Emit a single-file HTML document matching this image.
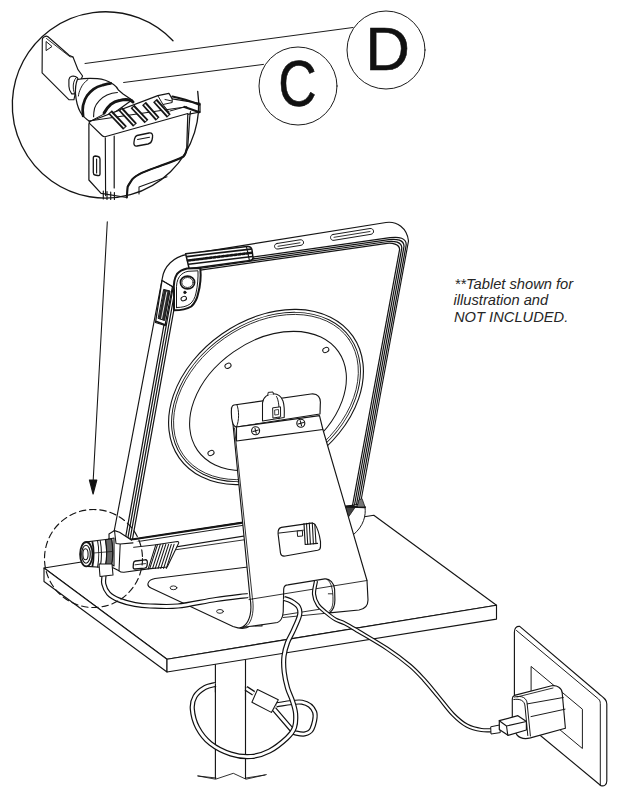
<!DOCTYPE html>
<html><head><meta charset="utf-8">
<style>
html,body{margin:0;padding:0;background:#fff;width:630px;height:800px;overflow:hidden}
svg{display:block}
.t{font-family:"Liberation Sans",sans-serif}
</style></head><body>
<svg width="630" height="800" viewBox="0 0 630 800">
<g fill="none" stroke="#151515" stroke-width="1.14" stroke-linejoin="round" stroke-linecap="round">

<!-- POLE -->
<g id="pole" fill="#fff">
<path d="M215.4 662 L215.4 778.5 M245.5 659.5 L245.5 778.5"/>
<path d="M198 776 L216 778 M246 778 L265 775" stroke-width="0.88"/>
</g>

<!-- TABLE -->
<g id="table" fill="#fff">
<path d="M44 568 L373.8 515.2 L496.5 605.2 L167 659.2 Z"/>
<path d="M44 568 L167 659.2 L167 672 L44 581.5 Z"/>
<path d="M167 659.2 L496.5 605.2 L496.5 619.1 L167 672 Z"/>
</g>

<!-- TABLET -->
<g id="tablet">
<path fill="#fff" d="M186 254.6 L386 222.5 C397 221 407 228 408.5 241 L360.4 504 L132 539.5 L114 532 L162.3 278.3 C164 266 174 257 186 254.6 Z"/>
<!-- top band -->
<path d="M190 266 L390 237.7 C399 236.4 406.6 238 406.2 245 L358.3 505" stroke-width="1.25"/>
<path d="M190.5 267.8 L389 239.6 C396.5 238.5 404.2 240 404 246.5 L356.4 505" stroke-width="1.25"/>
<path d="M191 269.6 L388 241.5 C394 240.7 401.8 242 401.8 248 L354.5 505" stroke-width="1.25"/>
<path d="M191.5 271.4 L387 243.4 C391.5 242.8 399.6 244 399.6 249.5 L352.6 505" stroke-width="1.25"/>
<!-- left band -->
<path d="M170.8 287 L125.2 539.5" stroke-width="1.25"/>
<path d="M173.2 287 L127.6 539.5" stroke-width="1.25"/>
<path d="M175.6 287 L130 539.5" stroke-width="1.25"/>
<path d="M178 287 L132.4 539.5" stroke-width="1.25"/>
<path d="M162 280.5 L172.5 286.5 L165 325.5 L155.5 322.5 Z" fill="#fff" stroke-width="1.3"/>
<path d="M164 289.5 L170 291 L164.5 320.5 L158.5 318.5 Z" fill="#2a2a2a" stroke-width="1"/>
<path d="M166.8 292 L161.6 318.5" stroke="#fff" stroke-width="0.9"/>
<path d="M156.5 321.5 L165.5 325" stroke-width="1.6"/>
<!-- corner cap -->
<path d="M163 281 L173.5 287.5" fill="none" stroke-width="0.97"/>
<!-- top rail grille -->
<path d="M185.6 253.7 L247 246.5 C250 246.2 251.5 247.5 252 250 L253 257.5 C253.2 259.5 252 260.3 250 260.6 L189.2 268.8 Z" fill="#fff" stroke-width="1.5"/>
<path d="M186.8 256.6 L250.8 249.1" fill="none" stroke-width="1.6"/>
<path d="M188 260.5 L251.5 252.8" fill="none" stroke-width="2.6" stroke-dasharray="2.6 1.6"/>
<path d="M188.6 264.3 L252.3 256.5" fill="none" stroke-width="1.5"/>
<path d="M246.5 246.8 L249.5 260.8" fill="none" stroke-width="1.1"/>
<!-- camera region -->
<path d="M174 310.25 L174 290 C173.5 285 174 279 177 274 C179.5 271 183 269.5 187 268.5 L200.3 268 C201 275 200 287 198 294 C197 299 195 303 191.25 306.5 C187 309 181 310.25 174 310.25 Z" fill="#fff" stroke-width="2"/>
<path d="M176.5 307.5 L176.5 290 C176.2 285 177 280 179.5 276.5 C181.5 273.8 184.5 272 188 271.3 L198 270.8 C198.3 277 197.5 287 196 293 C195 298 193 301.5 190 304 C186.5 306.5 182 307.5 176.5 307.5 Z" fill="none" stroke-width="0.97"/>
<ellipse cx="187.5" cy="282.5" rx="7.1" ry="6.4" fill="#fff" stroke-width="1.7"/>
<ellipse cx="187.5" cy="282.5" rx="5.6" ry="5" fill="none" stroke-width="0.79"/>
<circle cx="184.9" cy="292.4" r="1.3" fill="#111" stroke-width="0.6"/>
<ellipse cx="183.75" cy="298.6" rx="2.8" ry="2.1" transform="rotate(-20 183.75 298.6)" fill="#fff" stroke-width="1.06"/>
<!-- buttons -->
<path d="M277 243.5 L300 239.8 C304 239.2 305 244.5 301 245.3 L278 249 C274 249.5 273 244 277 243.5 Z" stroke-width="0.97"/>
<path d="M278 246.3 L300 242.8" stroke-width="0.88"/>
<path d="M333 234.5 L370 228.5 C374 228 375 233.5 371 234.3 L334 240.3 C330 241 329 235 333 234.5 Z" stroke-width="0.97"/>
<path d="M334 237.3 L370 231.5" stroke-width="0.88"/>
<!-- bottom rail -->
<path d="M131.7 539.5 L353 506" stroke-width="2.2"/>
<path d="M133 542.3 L353 508.4" stroke-width="0.97"/>
<path d="M176 549.7 L353 524" stroke-width="0.88"/>
<!-- bottom-right bumper -->
<path d="M344.4 506.5 L365 507.3 C366 515 364 526 353 535 L344.4 506.5" fill="#fff" stroke-width="0.97"/>
<path d="M345 507 L355 507.5 L348.5 517 Z" fill="#444" stroke-width="0.8"/>
<path d="M344.4 506.5 L365 507.3" stroke-width="2"/>
<path d="M359 500 L362 498.5 L365 507 L357.5 507 Z" fill="#777" stroke-width="0.8"/>
</g>


<!-- DISC -->
<g id="disc">
<ellipse cx="266" cy="397" rx="106" ry="77" transform="rotate(-35 266 397)" stroke-width="1.14"/>
<ellipse cx="266" cy="397" rx="103" ry="74" transform="rotate(-35 266 397)" stroke-width="0.97"/>
<ellipse cx="266" cy="397" rx="101" ry="72" transform="rotate(-35 266 397)" stroke-width="0.79"/>
<ellipse cx="268" cy="401" rx="86" ry="60" transform="rotate(-35 268 401)" stroke-width="1.06"/>
<ellipse cx="228" cy="365.8" rx="3.2" ry="2.4" transform="rotate(-25 228 365.8)" stroke-width="0.97"/>
<ellipse cx="325.8" cy="350" rx="3.2" ry="2.4" transform="rotate(-25 325.8 350)" stroke-width="0.97"/>
<ellipse cx="211" cy="453" rx="3.2" ry="2.4" transform="rotate(-25 211 453)" stroke-width="0.97"/>
</g>

<!-- STAND -->
<g id="stand" fill="#fff">
<!-- foot plate -->
<path d="M262 565.3 L155 578.5 C147 580 146 586 151 588 L233 626.5 C240 629 246 629 250 626 L262 626 Z" stroke-width="1.06"/>
<ellipse cx="173.5" cy="587.8" rx="3.4" ry="1.9" stroke-width="0.88"/>
<ellipse cx="220" cy="611.4" rx="3.4" ry="1.9" stroke-width="0.88"/>
<!-- column -->
<path d="M231.4 408 L250 597.5 C251.5 606 251 615 248 621 C246 625 243.5 627 240 627.8 L277.5 622.5 C281 621 282.8 617 283.2 612 L283.7 589 C283.9 586.5 285.5 585 287.9 584.9 L324.8 578.9 C330 578.5 334 583 334.6 589 L334.9 600 C334.9 606 333.5 610 329.5 612.9 L359 610 C365 609 368 605 368 600 L367 580.5 L322.9 429.5 Z" stroke-width="1.14"/>
<path d="M234.5 428 L252.3 597.3 C253.8 606 253.3 615 250.3 621.3 C248.5 625 246 626.8 243 627.4" fill="none" stroke-width="0.88"/>
<path d="M249 599.5 L367 580.5" fill="none" stroke-width="0.88"/>
<!-- hinge cylinder -->
<path d="M234 405 L311 394 C318 393 321 398 320.3 404 L320 414 L236.5 427 C233 427 231 420 231.4 410 C231.5 407 232 405.5 234 405 Z" stroke-width="1.14"/>
<path d="M237 405 C239 410 239.5 420 236.5 427" fill="none" stroke-width="0.97"/>
<!-- clamp -->
<path d="M262.5 416 L262.5 403 C263 397 268 393.8 273.5 393.8 C278 393.8 281.5 397 283 401 C284.3 405 284.5 411 284.2 417.5 L262.5 421 Z" stroke-width="1.06"/>
<path d="M276.5 396.5 C278.8 400 279.5 408 279 419" fill="none" stroke-width="0.97"/>
<path d="M273 407.8 L280.5 406.8 L280.6 416.8 L273.3 418 Z" stroke-width="0.97"/>
<path d="M275 410 L278.5 409.5 L278.6 414.5 L275.2 415 Z" fill="none" stroke-width="0.79"/>
<path d="M267.8 395 L268.2 392.4 L273 392 L273.4 394.2" stroke-width="0.97"/>
<!-- plate -->
<path d="M236.5 427 L319.5 415.6 L322.9 429.5 L236.5 441 Z" stroke-width="1.14"/>
<circle cx="255.6" cy="430.8" r="4" stroke-width="1.14"/>
<path d="M253 431.5 L258.3 430 M255 428.3 L256.3 433.3" stroke-width="1.06"/>
<circle cx="300.8" cy="423.2" r="4" stroke-width="1.14"/>
<path d="M298.2 424 L303.5 422.5 M300.2 420.7 L301.5 425.7" stroke-width="1.06"/>
<!-- slot -->
<path d="M281.4 527.4 L311 523.1 C313 522.9 314.2 523.5 315 524.5 C317.5 528 319.5 535 320.5 541.7 L320.5 546.4 C320.5 548.5 319.5 549.8 317.6 550.2 L285.2 556 C282.5 556.4 280.8 555 280.5 553.1 L278.1 534 C277.8 530.5 279 528 281.4 527.4 Z" stroke-width="1.14"/>
<path d="M278.6 533.1 L303.3 530.2" fill="none" stroke-width="0.97"/>
<path d="M304 523.6 L305.2 544.5 L317.6 543.4" fill="none" stroke-width="1.14"/>
<path d="M306.5 523.3 L307.7 544.2 M309.3 523 L310.4 544 M312.3 522.9 L313.4 543.8 M314.8 524 L316 543.5" fill="none" stroke-width="1.06"/>
<path d="M297.6 531 L302.4 530.6 L302.6 536 L298 536.4 Z" stroke-width="0.97"/>
<!-- cable hole -->
<path d="M327 579.3 C331.5 582 333 590 333 600 C333 606 331.5 609.5 329 611.5" fill="none" stroke-width="0.88"/>
<path d="M328.3 593.8 L332.5 593.8" fill="none" stroke-width="0.88"/>
<path d="M283.2 617.5 L329.5 612.9 M283.2 615 L318.75 609.4" fill="none" stroke-width="0.88"/>
</g>


<!-- CABLES -->
<g id="cables" fill="none" stroke-linecap="butt">
<path d="M104.0 576.0 C104.0 577.3 103.0 581.1 103.8 584.0 C104.5 586.9 106.0 590.8 108.5 593.5 C111.0 596.2 114.6 598.2 119.0 600.0 C123.4 601.8 129.8 603.5 135.0 604.5 C140.2 605.5 142.8 605.8 150.0 606.0 C157.2 606.2 167.0 607.1 178.0 606.0 C189.0 604.9 204.3 601.2 216.0 599.5 C227.7 597.8 242.7 596.2 248.0 595.5" stroke="#111" stroke-width="5.2"/>
<path d="M104.0 576.0 C104.0 577.3 103.0 581.1 103.8 584.0 C104.5 586.9 106.0 590.8 108.5 593.5 C111.0 596.2 114.6 598.2 119.0 600.0 C123.4 601.8 129.8 603.5 135.0 604.5 C140.2 605.5 142.8 605.8 150.0 606.0 C157.2 606.2 167.0 607.1 178.0 606.0 C189.0 604.9 204.3 601.2 216.0 599.5 C227.7 597.8 242.7 596.2 248.0 595.5" stroke="#fff" stroke-width="2.8"/>
<path d="M316.0 581.0 C315.7 583.2 313.7 590.0 314.0 594.0 C314.3 598.0 316.0 601.9 318.0 605.0 C320.0 608.1 323.1 610.1 326.0 612.5 C328.9 614.9 332.3 617.7 335.5 619.5 C338.7 621.3 341.1 621.5 345.0 623.5 C348.9 625.5 351.6 627.2 358.6 631.4 C365.6 635.6 378.4 642.9 387.0 648.6 C395.6 654.3 403.8 660.5 410.0 665.7 C416.2 670.9 419.5 674.8 424.3 680.0 C429.1 685.2 433.8 691.3 438.6 697.0 C443.4 702.7 448.2 709.5 452.9 714.3 C457.6 719.1 462.2 723.1 467.0 725.7 C471.8 728.3 476.4 729.3 481.4 730.0 C486.4 730.7 494.4 730.0 497.0 730.0" stroke="#111" stroke-width="4.2"/>
<path d="M316.0 581.0 C315.7 583.2 313.7 590.0 314.0 594.0 C314.3 598.0 316.0 601.9 318.0 605.0 C320.0 608.1 323.1 610.1 326.0 612.5 C328.9 614.9 332.3 617.7 335.5 619.5 C338.7 621.3 341.1 621.5 345.0 623.5 C348.9 625.5 351.6 627.2 358.6 631.4 C365.6 635.6 378.4 642.9 387.0 648.6 C395.6 654.3 403.8 660.5 410.0 665.7 C416.2 670.9 419.5 674.8 424.3 680.0 C429.1 685.2 433.8 691.3 438.6 697.0 C443.4 702.7 448.2 709.5 452.9 714.3 C457.6 719.1 462.2 723.1 467.0 725.7 C471.8 728.3 476.4 729.3 481.4 730.0 C486.4 730.7 494.4 730.0 497.0 730.0" stroke="#fff" stroke-width="1.9"/>
<path d="M276.5 704.8 C280.8 704.4 295.6 701.0 302.0 702.2 C308.4 703.4 312.9 707.5 314.6 712.0 C316.3 716.5 313.7 725.3 312.0 729.0 C310.3 732.7 307.3 733.4 304.4 734.0 C301.4 734.6 296.0 732.9 294.3 732.7 L274 709" stroke="#111" stroke-width="5.2"/>
<path d="M276.5 704.8 C280.8 704.4 295.6 701.0 302.0 702.2 C308.4 703.4 312.9 707.5 314.6 712.0 C316.3 716.5 313.7 725.3 312.0 729.0 C310.3 732.7 307.3 733.4 304.4 734.0 C301.4 734.6 296.0 732.9 294.3 732.7 L274 709" stroke="#fff" stroke-width="2.8"/>
<path d="M253.7 693.3 L246 688.3" stroke="#111" stroke-width="5.2"/>
<path d="M253.7 693.3 L246 688.3" stroke="#fff" stroke-width="2.8"/>
<path d="M215.6 684.4 C213.8 684.9 208.4 685.5 205.0 687.5 C201.6 689.5 197.1 692.9 195.0 696.5 C192.9 700.1 191.9 703.8 192.3 709.0 C192.7 714.2 194.5 721.8 197.5 727.5 C200.5 733.2 204.9 739.1 210.5 743.5 C216.1 747.9 224.1 751.8 230.8 754.0 C237.6 756.2 244.6 757.0 251.0 756.5 C257.4 756.0 263.5 754.1 269.5 751.0 C275.5 747.9 282.8 741.9 287.0 738.0 C291.2 734.1 293.1 731.5 294.5 727.5 C295.9 723.5 295.9 718.1 295.6 713.7 C295.3 709.3 293.9 705.3 292.5 701.0 C291.1 696.7 288.9 692.8 287.5 688.0 C286.1 683.2 284.8 677.3 284.2 672.0 C283.6 666.7 283.4 660.9 284.0 656.0 C284.6 651.1 286.0 646.6 287.5 642.5 C289.0 638.4 291.0 635.8 293.0 631.3 C295.0 626.8 298.6 619.5 299.5 615.5 C300.4 611.5 299.9 609.4 298.5 607.0 C297.1 604.6 293.4 602.4 291.0 601.0 C288.6 599.6 285.2 598.9 284.0 598.5" stroke="#111" stroke-width="5.2"/>
<path d="M215.6 684.4 C213.8 684.9 208.4 685.5 205.0 687.5 C201.6 689.5 197.1 692.9 195.0 696.5 C192.9 700.1 191.9 703.8 192.3 709.0 C192.7 714.2 194.5 721.8 197.5 727.5 C200.5 733.2 204.9 739.1 210.5 743.5 C216.1 747.9 224.1 751.8 230.8 754.0 C237.6 756.2 244.6 757.0 251.0 756.5 C257.4 756.0 263.5 754.1 269.5 751.0 C275.5 747.9 282.8 741.9 287.0 738.0 C291.2 734.1 293.1 731.5 294.5 727.5 C295.9 723.5 295.9 718.1 295.6 713.7 C295.3 709.3 293.9 705.3 292.5 701.0 C291.1 696.7 288.9 692.8 287.5 688.0 C286.1 683.2 284.8 677.3 284.2 672.0 C283.6 666.7 283.4 660.9 284.0 656.0 C284.6 651.1 286.0 646.6 287.5 642.5 C289.0 638.4 291.0 635.8 293.0 631.3 C295.0 626.8 298.6 619.5 299.5 615.5 C300.4 611.5 299.9 609.4 298.5 607.0 C297.1 604.6 293.4 602.4 291.0 601.0 C288.6 599.6 285.2 598.9 284.0 598.5" stroke="#fff" stroke-width="2.8"/>
<path d="M490.7 726.8 L499.5 725 L500.3 732.6 L491 734 Z" fill="#fff" stroke-width="1"/>
<path d="M257.5 689.5 L278.3 699.7 L271.4 712.4 L251.9 702.2 Z" fill="#fff" stroke-width="1.06"/>
</g>
<!-- pole redraw over loop back part -->
<path d="M215.4 684 L215.4 692 M245.5 686 L245.5 700" stroke-width="1.14"/>
<path d="M197.8 775.9 L215.6 779.2 L233.3 773.3 L246 779.2 L266.3 774.6" stroke-width="0.88"/>

<!-- WALL PLATE -->
<g id="wall" fill="#fff">
<path d="M514.4 632 C514.4 628 516.5 626 519.7 626.4 L598.3 693.3 C603 697.5 606.8 699 606.8 704 L606.8 781 C606.8 785 604 786.5 601 785.7 L514.4 714 Z" stroke-width="1.14"/>
<path d="M516.5 630.5 L598.5 699 C599.8 700.2 600.3 701.5 600.3 703.5 L600.3 785.5" fill="none" stroke-width="0.97"/>
<path d="M531.4 666.7 L582.4 709.2 L582.4 748.5 L531.4 706 Z" stroke-width="0.97"/>
<!-- charger -->
<path d="M514.4 695.4 L551.6 685.8 C557 685 562 688 562.2 693 L565.4 728.3 L530.4 737.9 C524 739.5 519.7 738 517 735 L512.3 727.3 L512.3 699 C512.3 697 513 696 514.4 695.4 Z" stroke-width="1.14"/>
<path d="M513.8 699.5 C520 698.5 524.5 700.5 525 706 L527.8 735.5" fill="none" stroke-width="1"/>
<path d="M514.4 697 C522 695 527 698 527.2 704 L530.4 736" fill="none" stroke-width="0.97"/>
<path d="M527.2 703.9 L563.3 697.5 M531 716.6 L565 709.2" fill="none" stroke-width="0.97"/>
<path d="M517 697 L553 688" fill="none" stroke-width="0.88"/>
<!-- usb plug -->
<path d="M499.3 720.7 L517.9 715.7 L526.4 721.5 L526.4 730 L508 735.3 L499.3 729.5 Z" stroke-width="1.2"/>
<path d="M499.3 720.7 L506.5 726 L526.4 721.5 M506.5 726 L507.8 735.2" fill="none" stroke-width="1.1"/>
</g>

<!-- LOCK (bottom-left) -->
<g id="lock" fill="#fff">
<path d="M109 534 L114.5 530.6 L119.5 532.3 L131.7 540.3 L155.8 544.8 L148.2 568.9 L124 572.2 C121.5 572.3 120 571.8 119 570.8 L109.5 566 Z" stroke="none"/>
<path d="M109.5 566 L109 534 L114.5 530.6 L119.5 532.3 L131.7 540.3" fill="none" stroke-width="1.14"/>
<path d="M109.5 566 L119 570.8 C120 571.8 121.5 572.3 124 572.2 L148.2 568.9" fill="none" stroke-width="1.14"/>
<path d="M133.6 547.3 L155.8 544.8" fill="none" stroke-width="0.97"/>
<path d="M120.2 544 L119 570.8 M120.2 544 L133 542.9 M114.5 530.6 L116 543.5 L120.2 544" fill="none" stroke-width="1.06"/>
<path d="M87.1 541.9 L99.4 540.2 L108.1 539.3 L114 538 L114 566 L111.6 564.6 L100.2 567.2 L87.1 566.4 Z" stroke-width="1.14"/>
<path d="M92.4 542 C94 548 94 560 92.4 566.2" fill="none" stroke-width="1.8"/>
<path d="M97.6 541 C99 548 99 560 97.6 567 M100.2 540.5 C101.6 548 101.6 560 100.2 567.2" fill="none" stroke-width="1.06"/>
<path d="M105.5 539.6 C107 548 107 558 105.5 566 M108.5 539.2 C110 548 110 558 108.5 565.5 M111.6 538.8 C113 548 113 558 111.6 564.6" fill="none" stroke-width="1.14"/>
<path d="M105.5 539.6 C107 548 107 558 105.5 566 L111.6 564.6 C113 558 113 548 111.6 538.8 Z" fill="#666" stroke-width="1.1"/>
<path d="M87.5 553.5 L112 551.5" fill="none" stroke-width="0.79"/>
<ellipse cx="86.3" cy="554.2" rx="6.2" ry="12.2" stroke-width="1.8"/>
<ellipse cx="86" cy="554.2" rx="4.3" ry="9" stroke-width="1.14"/>
<ellipse cx="85.5" cy="554.2" rx="2.6" ry="5.5" stroke-width="1.06"/>
<path d="M99 564 L112 564 L113 575 L100 576.5 Z" stroke-width="1.06"/>
<!-- ribbed piece -->
<path d="M155.8 544.8 L177.4 541.6 C178.5 541.5 179 542.3 178.6 543.3 L167.2 567 L148.2 568.9 Z" stroke-width="1.06"/>
<path d="M149.8 568.4 L157.6 544.4 M152.6 568.4 L160.3 544.4 M155.3 568.4 L163.1 544.4 M158.1 568.4 L165.8 544.4 M160.8 568.4 L168.6 544.4 M163.6 568.4 L171.3 544.4 M166.3 568.4 L174.1 544.4 " fill="none" stroke-width="1.06"/>
<path d="M135.5 561 L145 559.8 C147 559.6 147.5 561 147.3 563 L147 566 C146.8 567.5 146 568 144.5 568.2 L135 569 C133.5 569.1 133 568 133.2 566.5 L133.5 563 C133.7 561.8 134.3 561.2 135.5 561 Z" stroke-width="1.32"/>
<path d="M135 564.8 L145.5 563.6" fill="none" stroke-width="0.88"/>
</g>
<circle cx="93.5" cy="558.5" r="49" stroke-width="1.14" stroke-dasharray="6.5 3.8"/>

<!-- TEXT -->
<g class="t" fill="#262626" stroke="none" font-style="italic" font-size="14.7">
<text x="454.5" y="288.6">**Tablet shown for</text>
<text x="453.5" y="305.1">illustration and</text>
<text x="454" y="321.6">NOT INCLUDED.</text>
</g>

<!-- LEADERS & LABELS -->
<path d="M85 63.5 L353 27.5" stroke-width="0.97"/>
<path d="M123.6 82.5 L263.5 64.4" stroke-width="0.97"/>
<circle cx="298" cy="86" r="39" stroke-width="0.97" fill="#fff"/>
<circle cx="386" cy="50" r="39" stroke-width="0.97" fill="#fff"/>
<g class="t" fill="#111" stroke="#111" stroke-width="0.5" font-size="58">
<text transform="translate(278.15 106.4) scale(0.917 1.11)">C</text>
<text transform="translate(365.26 70.15) scale(1.068 1.053)">D</text>
</g>


<!-- MAGNIFIER CONTENT -->
<g id="mag" fill="#fff">
<!-- key blade -->
<path d="M44.5 36.8 C45.5 36 47 36 48 36.8 L69.1 55.2 L73 57 L78 69.7 L82.6 76 L76 90 L73.9 99.8 L69.1 99.8 L42.1 72.9 L42.3 40 C42.3 38 43 37.2 44.5 36.8 Z" stroke-width="1.14"/>
<path d="M46.5 38.5 L70 56.8 L73 57" fill="none" stroke-width="0.88"/>
<path d="M46.1 41.9 L46.1 50.6 L51.7 46.7 Z" stroke-width="0.97"/>
<!-- key shaft stub -->
<path d="M71.7 76.3 C74 75.8 76 76.5 77.4 77.7 L78.5 80 C76.5 84 75.8 89 75.8 93.9 L71.7 93.9 C70 91.5 68.9 88.5 68.9 86.3 L68.9 79.6 C69.2 77.8 70.2 76.7 71.7 76.3 Z" stroke-width="1.14"/>
<path d="M76.3 77.5 C73.8 80 73 84 73.3 88 C73.5 90.5 74 92.5 75 94" fill="none" stroke-width="0.97"/>
<!-- cylinder body -->
<path d="M77.4 79.5 C84 78.3 92 78.3 97.4 78.7 C103 79 109 81.5 113.6 84.4 C116 86 117.5 88 118.4 90.1 L123.1 93.9 L132 100 L100 123 L89.8 121.5 C86 119 82.5 116 80.3 112 C77.5 107 76 100 75.5 93.9 C75.3 89 75.5 84 77.4 79.5 Z" stroke-width="1.23"/>
<path d="M87.9 79.6 C84.5 82 82.2 85 80.8 88.2 C79.5 91 78.6 93.5 78.4 96" fill="none" stroke-width="0.97"/>
<path d="M83.1 115.8 C82.5 111 82.5 108 83.1 105.3 C84 101.5 85 98.5 87 95.8 C89 92.8 91 91 93.6 89.1 C96.5 87 99.5 86 102.2 85.3 C105 84.5 108 83.6 110.8 83.4" fill="none" stroke-width="2.7"/>
<path d="M93.6 116.8 C93.6 113.5 94 110.8 94.6 108.2 C95.6 105 97.2 102.8 99.3 100.6 C101.5 98 104 96.3 107 94.9 C110.5 93.3 114 92.6 117.4 92.5" fill="none" stroke-width="1.14"/>
<path d="M89.8 121.5 L104 114" fill="none" stroke-width="0.97"/>
<!-- device body -->
<path d="M91 121 L157.8 95.6 L168.9 93.3 L172.2 98.9 L200 103.3 L200 112 L187.8 114.4 L186.7 148.9 C186 153 185 155 183.5 156.5 C176 160.5 167 163.5 158 166.7 C150 169.5 144 171.5 139 174.3 C135 176.5 132.5 178.5 131.4 180.6 C129.5 183.5 128 186 127.6 187 L126.8 197.5 L101.1 193.3 L88.9 180 L88.9 124 C88.9 122.5 89.6 121.5 91 121 Z" stroke-width="1.23"/>
<!-- shroud -->
<path d="M88.9 121.1 L186.7 106.7" fill="none" stroke-width="1.06"/>
<path d="M89.5 123.3 L102 135.5 C103 136.5 104 136.8 105 136.7 L187.8 113.5" fill="none" stroke-width="1.14"/>
<path d="M105.3 137.8 L105.6 195.6" fill="none" stroke-width="1.14"/>
<!-- ridges -->
<g fill="none" stroke-linecap="butt">
<path d="M110 112 L125 128" stroke-width="5.2"/>
<path d="M120.5 109 L135 125" stroke-width="5.2"/>
<path d="M132.5 106.5 L146.5 121.5" stroke-width="5.2"/>
<path d="M144 103.5 L157.6 119" stroke-width="5.2"/>
<path d="M155 100.5 L168.8 116" stroke-width="5.2"/>
<path d="M110.6 112.9 L124.4 127.3" stroke="#fff" stroke-width="1.5"/>
<path d="M121.1 109.9 L134.4 124.3" stroke="#fff" stroke-width="1.5"/>
<path d="M133.1 107.4 L145.9 120.8" stroke="#fff" stroke-width="1.5"/>
<path d="M144.6 104.4 L157.0 118.3" stroke="#fff" stroke-width="1.5"/>
<path d="M155.6 101.4 L168.2 115.3" stroke="#fff" stroke-width="1.5"/>
</g>
<path d="M104.1 113 C106 109.5 108 106.8 110.8 104.4 C113.5 102.3 116.5 101.1 119.3 100.6 C121.5 100.1 124 99.7 126 99.6 C129 99.6 131.5 100.5 133 102" fill="none" stroke-width="3"/>
<path d="M157.8 95.6 L163 104.5 L172.2 102.5 L172.2 98.9 M163 104.5 L169 112" fill="none" stroke-width="0.97"/>
<path d="M165 99.5 L172 101 M170 111 L184.5 107" fill="none" stroke-width="0.97"/>
<path d="M172.5 96.5 C180 98 190 101 199.5 104.7" fill="none" stroke-width="2.2"/>
<path d="M184.5 107 L199.5 112.2" fill="none" stroke-width="2.2"/>
<path d="M190.5 111.5 L189.7 117.5 L188.2 140 L187.5 149" fill="none" stroke-width="1.23"/>
<!-- ports -->
<path d="M137 135.5 L149 133 C152 132.5 153 134.5 152.5 137.5 L152 140 C151.5 142.5 150 143.5 148 144 L137 146 C134.5 146.4 133.5 144.7 134 142 L134.5 139 C135 137 135.8 135.8 137 135.5 Z" stroke-width="1.32"/>
<path d="M137.5 139.5 L149.5 137.2" fill="none" stroke-width="1.06"/>
<path d="M93.3 158 C93.3 156.5 94 156 95.5 156 L98 156.5 C99.2 156.8 100 157.5 100 159 L100 174 C100 175.3 99 175.8 97.5 175.5 L95 175 C94 174.8 93.3 174 93.3 172.5 Z" stroke-width="1.32"/>
<path d="M96.6 159 L96.6 173" fill="none" stroke-width="1.14"/>
<!-- lower device lines -->
<path d="M186.7 148.9 C186 153 185 155 183.5 156.5 C176 160.5 167 163.5 158 166.7 C150 169.5 144 171.5 139 174.3 C135 176.5 132.5 178.5 131.4 180.6 C129.5 183.5 128 186 127.6 187 L126.8 197.5" fill="none" stroke-width="2.1"/>
<path d="M167 176.8 L139 187 L139 194" fill="none" stroke-width="1.06"/>
<path d="M114.2 136 L114.2 188" fill="none" stroke-width="1.2"/>
<path d="M103.3 191 L103.3 199 M107 191.5 L107 199.5 M110.7 192 L110.7 199.5 M114.4 192.5 L114.4 199.5" fill="none" stroke-width="1.14"/>
</g>

<!-- MAGNIFIER CIRCLE -->
<path d="M173 40.7 A93.2 93.2 0 1 0 197.7 91.4" stroke-width="1.32"/>

<!-- ARROW -->
<path d="M107.3 221.7 L93.1 482" stroke-width="1.06"/>
<path d="M89.4 480 L96.8 480 L93.1 494 Z" fill="#111"/>

</g>
</svg>
</body></html>
